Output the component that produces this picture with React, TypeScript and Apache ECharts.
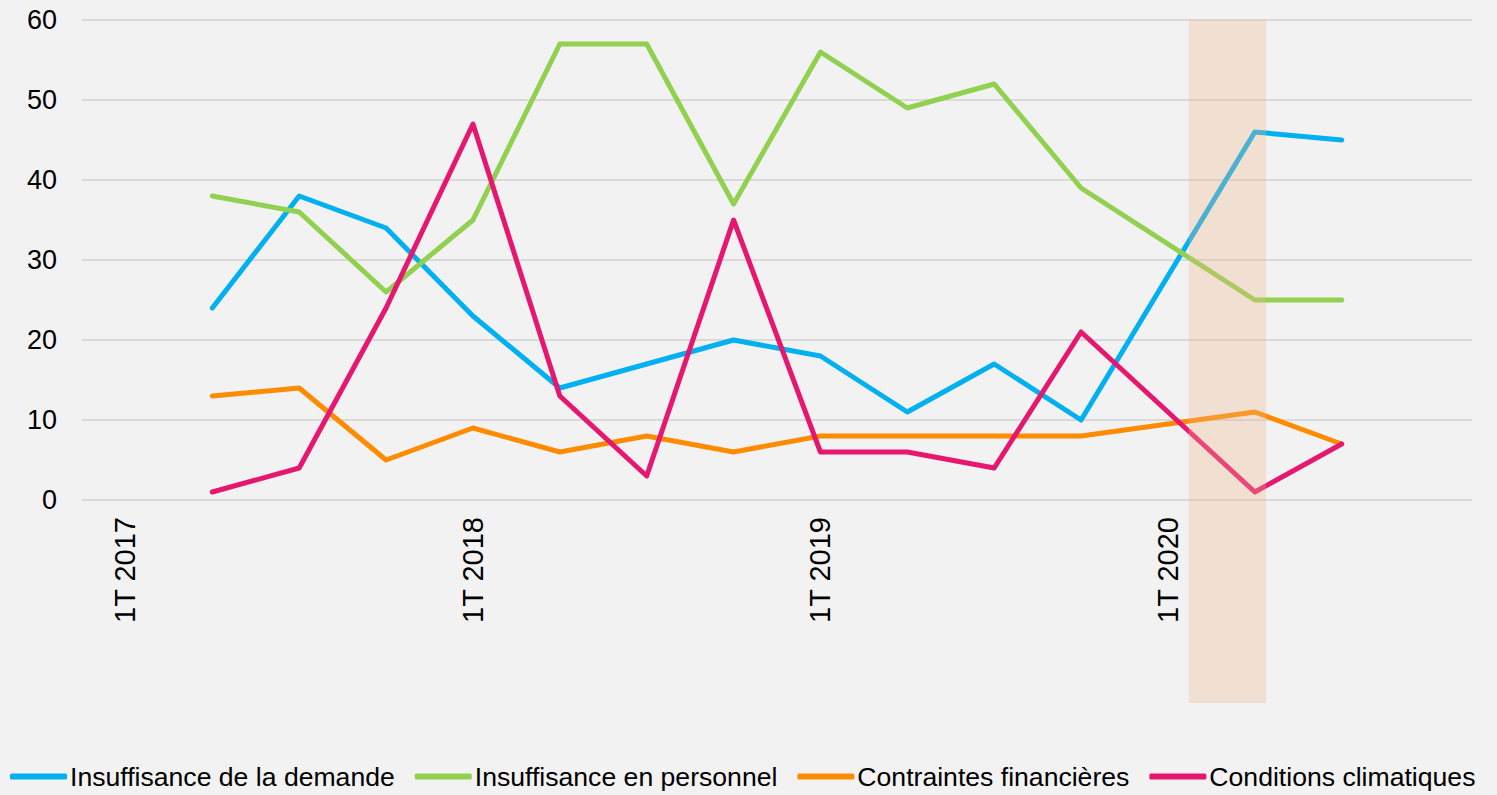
import React, { useEffect, useRef } from "react";
import * as echarts from "echarts";

const categories = [
  "1T 2017", "2T 2017", "3T 2017", "4T 2017",
  "1T 2018", "2T 2018", "3T 2018", "4T 2018",
  "1T 2019", "2T 2019", "3T 2019", "4T 2019",
  "1T 2020", "2T 2020", "3T 2020", "4T 2020",
];

const demande = [null, 24, 38, 34, 23, 14, 17, 20, 18, 11, 17, 10, null, 46, 45, null];
const personnel = [null, 38, 36, 26, 35, 57, 57, 37, 56, 49, 52, 39, null, 25, 25, null];
const financieres = [null, 13, 14, 5, 9, 6, 8, 6, 8, 8, 8, 8, null, 11, 7, null];
const climatiques = [null, 1, 4, 24, 47, 13, 3, 35, 6, 6, 4, 21, null, 1, 7, null];

const seriesNames = [
  "Insuffisance de la demande",
  "Insuffisance en personnel",
  "Contraintes financières",
  "Conditions climatiques",
];
const colors = ["#00b0f0", "#92d050", "#ff8c00", "#e6176f"];

// highlighted period (in category index units)
const band = [[12.24, 13.13]];

const FONT = "'Liberation Sans', Arial, sans-serif";

export default function App() {
  const ref = useRef<HTMLDivElement>(null);

  useEffect(() => {
    if (!ref.current) return;
    const chart = echarts.init(ref.current, undefined, { renderer: "svg" });
    const values = [demande, personnel, financieres, climatiques];
    const lineSeries = values.map((d, i) => ({
      name: seriesNames[i],
      type: "line",
      data: d,
      xAxisIndex: 0,
      yAxisIndex: 0,
      connectNulls: true,
      symbol: "none",
      color: colors[i],
      lineStyle: { width: 5, color: colors[i], cap: "round", join: "round" },
      z: 2 + i,
    }));

    chart.setOption({
      animation: false,
      backgroundColor: "#f2f2f2",
      textStyle: { fontFamily: FONT },
      grid: [
        { left: 82, right: 25, top: 20, bottom: 295, containLabel: false },
        { left: 82, right: 25, top: 20, bottom: 92, containLabel: false },
      ],
      xAxis: [
        {
          type: "category",
          gridIndex: 0,
          data: categories,
          boundaryGap: true,
          axisLine: { show: false },
          axisTick: { show: false },
          axisLabel: {
            interval: 3,
            rotate: 90,
            margin: 17,
            fontSize: 29,
            color: "#000",
            fontFamily: FONT,
          },
        },
        {
          type: "value",
          gridIndex: 1,
          min: -0.5,
          max: 15.5,
          show: false,
        },
      ],
      yAxis: [
        {
          type: "value",
          gridIndex: 0,
          min: 0,
          max: 60,
          interval: 10,
          axisLine: { show: false },
          axisTick: { show: false },
          axisLabel: { fontSize: 27, color: "#000", margin: 25, fontFamily: FONT },
          splitLine: { show: true, lineStyle: { color: "#d9d9d9", width: 2 } },
        },
        {
          type: "value",
          gridIndex: 1,
          min: 0,
          max: 1,
          show: false,
        },
      ],
      legend: {
        data: seriesNames,
        left: 5,
        bottom: 0,
        padding: 5,
        icon: "roundRect",
        itemWidth: 57,
        itemHeight: 6,
        itemGap: 20,
        textStyle: { fontSize: 26.6, color: "#000", fontFamily: FONT, padding: [0, 0, 0, -2] },
      },
      series: [
        ...lineSeries,
        {
          type: "custom",
          name: "band",
          xAxisIndex: 1,
          yAxisIndex: 1,
          silent: true,
          z: 20,
          data: band,
          renderItem: (params: any, api: any) => {
            const p1 = api.coord([api.value(0), 1]);
            const p2 = api.coord([api.value(1), 0]);
            return {
              type: "rect",
              shape: { x: p1[0], y: p1[1], width: p2[0] - p1[0], height: p2[1] - p1[1] },
              style: { fill: "rgba(239,184,139,0.31)" },
            };
          },
        },
      ],
    });
    return () => chart.dispose();
  }, []);

  return (
    <div
      ref={ref}
      style={{ position: "fixed", left: 0, top: 0, width: 1497, height: 795, background: "#f2f2f2" }}
    />
  );
}
